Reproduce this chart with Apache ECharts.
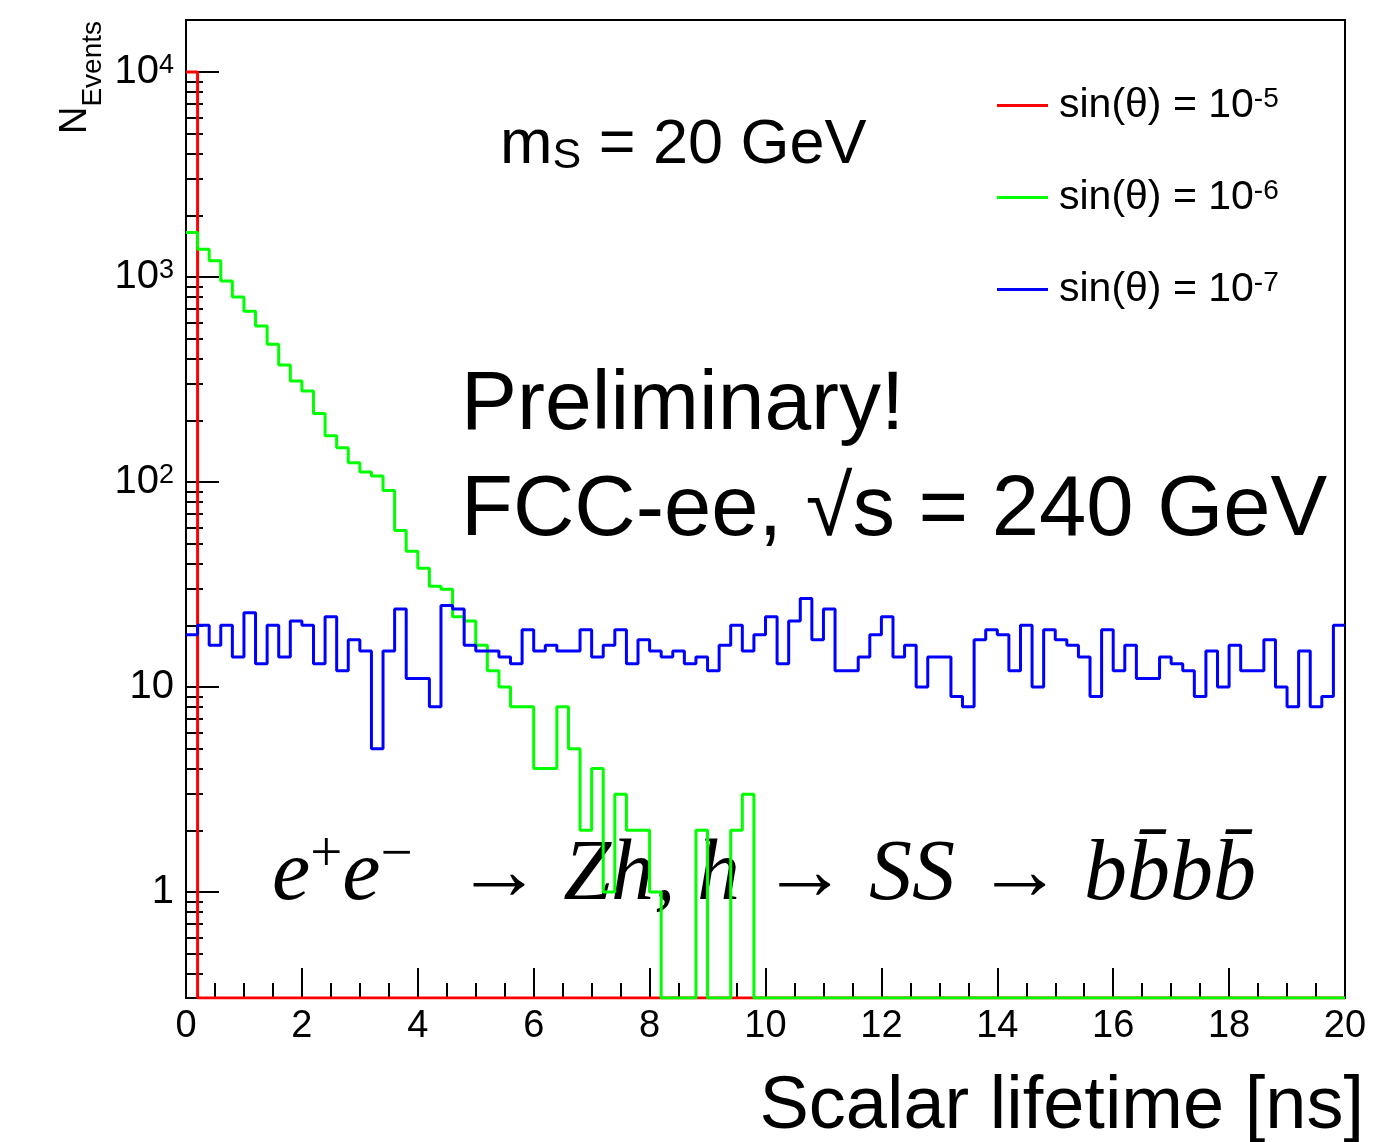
<!DOCTYPE html>
<html>
<head>
<meta charset="utf-8">
<title>Scalar lifetime</title>
<script src="https://cdn.jsdelivr.net/npm/echarts@6/dist/echarts.min.js"></script>
<style>
  html, body { margin: 0; padding: 0; background: #fff; }
  #main { width: 1393px; height: 1142px; }
</style>
</head>
<body>
<div id="main"></div>
<script>
// histogram: 100 bins of 0.2 ns between 0 and 20 ns
const binWidth = 0.2
const sinThetaExp = [-5, -6, -7]
const lineColors = ['#ff0000', '#00ff00', '#0000ff']

const redCounts = [
  10000, 0, 0, 0, 0, 0, 0, 0, 0, 0,
  0, 0, 0, 0, 0, 0, 0, 0, 0, 0,
  0, 0, 0, 0, 0, 0, 0, 0, 0, 0,
  0, 0, 0, 0, 0, 0, 0, 0, 0, 0,
  0, 0, 0, 0, 0, 0, 0, 0, 0, 0,
  0, 0, 0, 0, 0, 0, 0, 0, 0, 0,
  0, 0, 0, 0, 0, 0, 0, 0, 0, 0,
  0, 0, 0, 0, 0, 0, 0, 0, 0, 0,
  0, 0, 0, 0, 0, 0, 0, 0, 0, 0,
  0, 0, 0, 0, 0, 0, 0, 0, 0, 0
]
const greenCounts = [
  1650, 1365, 1200, 955, 800, 680, 577, 470, 372, 311,
  278, 216, 168, 147, 124, 112, 107, 91, 58, 46,
  38, 31, 30, 22, 21, 16, 12, 10, 8, 8,
  4, 4, 8, 5, 2, 4, 1, 3, 2, 2,
  1, 0, 0, 0, 2, 0, 0, 2, 3, 0,
  0, 0, 0, 0, 0, 0, 0, 0, 0, 0,
  0, 0, 0, 0, 0, 0, 0, 0, 0, 0,
  0, 0, 0, 0, 0, 0, 0, 0, 0, 0,
  0, 0, 0, 0, 0, 0, 0, 0, 0, 0,
  0, 0, 0, 0, 0, 0, 0, 0, 0, 0
]
const blueCounts = [
  18, 20, 16, 20, 14, 23, 13, 20, 14, 21,
  20, 13, 22, 12, 17, 15, 5, 15, 24, 11,
  11, 8, 25, 24, 16, 15, 15, 14, 13, 19,
  15, 16, 15, 15, 19, 14, 16, 19, 13, 17,
  15, 14, 15, 13, 14, 12, 16, 20, 15, 18,
  22, 13, 21, 27, 17, 24, 12, 12, 14, 18,
  22, 14, 16, 10, 14, 14, 9, 8, 17, 19,
  18, 12, 20, 10, 19, 17, 16, 14, 9, 19,
  12, 16, 11, 11, 14, 13, 12, 9, 15, 10,
  16, 12, 12, 17, 10, 8, 15, 8, 9, 20
]

const xMin = 0
const xMax = 20
const yMin = 0.304
const yMax = 17940
const yMajorTicks = [1, 10, 100, 1000, 10000]
const yMinorTicks = [
  0.4, 0.5, 0.6, 0.7, 0.8, 0.9,
  2, 3, 4, 5, 6, 7, 8, 9,
  20, 30, 40, 50, 60, 70, 80, 90,
  200, 300, 400, 500, 600, 700, 800, 900,
  2000, 3000, 4000, 5000, 6000, 7000, 8000, 9000
]

const sans = 'Liberation Sans'
const serif = 'Liberation Serif'

// empty bins sit on the bottom of the log axis, as ROOT draws them
function histPoints (counts) {
  let pts = []
  counts.forEach((c, i) => {
    pts.push([i * binWidth, c > 0 ? c : yMin])
  })
  let last = counts[counts.length - 1]
  pts.push([counts.length * binWidth, last > 0 ? last : yMin])
  return pts
}

function seriesName (e) {
  return 'sin(θ) = 10^' + e
}

const allCounts = [redCounts, greenCounts, blueCounts]
const tickStyle = { color: '#000', width: 2 }

let myChart = echarts.init(document.getElementById('main'))
myChart.setOption({
  animation: false,
  grid: {
    left: 186,
    right: 48,
    top: 20,
    bottom: 144,
    show: true,
    borderColor: '#000',
    borderWidth: 2,
    outerBoundsMode: 'none'
  },
  legend: {
    orient: 'vertical',
    left: 992,
    top: 66,
    itemWidth: 51,
    itemHeight: 3,
    itemGap: 37,
    icon: 'rect',
    data: sinThetaExp.map(seriesName),
    formatter: name => {
      let e = name.split('^')[1]
      return '{b|sin(θ) = 10}{s|' + e + '}'
    },
    textStyle: {
      rich: {
        b: { fontSize: 41, fontFamily: sans, color: '#000', lineHeight: 41, padding: [14, 0, 0, 6], verticalAlign: 'bottom' },
        s: { fontSize: 28, fontFamily: sans, color: '#000', lineHeight: 28, verticalAlign: 'top' }
      }
    }
  },
  xAxis: {
    type: 'value',
    min: xMin,
    max: xMax,
    interval: 2,
    axisLine: { show: true, onZero: false, lineStyle: tickStyle },
    axisTick: { show: true, inside: true, length: 30, lineStyle: tickStyle },
    minorTick: { show: true, splitNumber: 4, length: 15, lineStyle: tickStyle },
    axisLabel: { fontSize: 38, fontFamily: sans, color: '#000', margin: 10, showMinLabel: true, showMaxLabel: true },
    splitLine: { show: false },
    minorSplitLine: { show: false }
  },
  yAxis: [{
    type: 'log',
    logBase: 10,
    min: yMin,
    max: yMax,
    position: 'left',
    axisLine: { show: true, lineStyle: tickStyle },
    axisTick: { show: true, inside: true, length: 33, customValues: yMajorTicks, lineStyle: tickStyle },
    axisLabel: {
      customValues: yMajorTicks,
      margin: 12,
      formatter: v => {
        let e = Math.round(Math.log10(v))
        if (e === 0) return '{p|1}'
        if (e === 1) return '{p|10}'
        return '{b|10}{s|' + e + '}'
      },
      rich: {
        p: { fontSize: 40, fontFamily: sans, color: '#000' },
        b: { fontSize: 40, fontFamily: sans, color: '#000', lineHeight: 40, padding: [9, 0, 0, 0], verticalAlign: 'bottom' },
        s: { fontSize: 27, fontFamily: sans, color: '#000', lineHeight: 27, verticalAlign: 'top' }
      }
    },
    splitLine: { show: false }
  }, {
    type: 'log',
    logBase: 10,
    min: yMin,
    max: yMax,
    position: 'left',
    axisLine: { show: false },
    axisTick: { show: true, inside: true, length: 17, customValues: yMinorTicks, lineStyle: tickStyle },
    axisLabel: { show: false },
    splitLine: { show: false }
  }],
  series: allCounts.map((counts, k) => ({
    name: seriesName(sinThetaExp[k]),
    type: 'line',
    step: 'end',
    showSymbol: false,
    symbol: 'none',
    clip: true,
    color: lineColors[k],
    lineStyle: { color: lineColors[k], width: 3 },
    data: histPoints(counts)
  })),
  graphic: [{
    type: 'text',
    x: 76,
    y: 21,
    rotation: Math.PI / 2,
    style: {
      text: '{n|N}{e|Events}',
      align: 'right',
      verticalAlign: 'middle',
      rich: {
        n: { fontSize: 38, fontFamily: sans, fill: '#000', lineHeight: 38, verticalAlign: 'top' },
        e: { fontSize: 28, fontFamily: sans, fill: '#000', lineHeight: 28, padding: [22, 0, 0, 0], verticalAlign: 'top' }
      }
    }
  }, {
    type: 'text',
    x: 1364,
    y: 1108,
    style: { text: 'Scalar lifetime [ns]', fontSize: 74, fontFamily: sans, fill: '#000', align: 'right', verticalAlign: 'middle' }
  }, {
    type: 'text',
    x: 500,
    y: 146,
    style: {
      text: '{m|m}{s|S}{m| = 20 GeV}',
      align: 'left',
      verticalAlign: 'middle',
      rich: {
        m: { fontSize: 63, fontFamily: sans, fill: '#000', lineHeight: 63, verticalAlign: 'top' },
        s: { fontSize: 43, fontFamily: sans, fill: '#000', lineHeight: 43, padding: [20, 0, 0, 0], verticalAlign: 'top' }
      }
    }
  }, {
    type: 'text',
    x: 461,
    y: 406,
    style: { text: 'Preliminary!', fontSize: 84, fontFamily: sans, fill: '#000', align: 'left', verticalAlign: 'middle' }
  }, {
    type: 'text',
    x: 461,
    y: 512,
    style: { text: 'FCC-ee, √s = 240 GeV', fontSize: 85, fontFamily: sans, fill: '#000', align: 'left', verticalAlign: 'middle' }
  }, {
    type: 'text',
    x: 272,
    y: 871,
    style: {
      text: '{t|e}{u|+}{t|e}{u|−}{t|  → Zh, h → SS → bb\u0304bb\u0304}',
      align: 'left',
      verticalAlign: 'middle',
      rich: {
        t: { fontSize: 86, fontFamily: serif, fontStyle: 'italic', fill: '#000', lineHeight: 86, padding: [5, 0, 0, 0], verticalAlign: 'top' },
        u: { fontSize: 57, fontFamily: serif, fill: '#000', lineHeight: 57, verticalAlign: 'top' }
      }
    }
  }]
})
</script>
</body>
</html>
